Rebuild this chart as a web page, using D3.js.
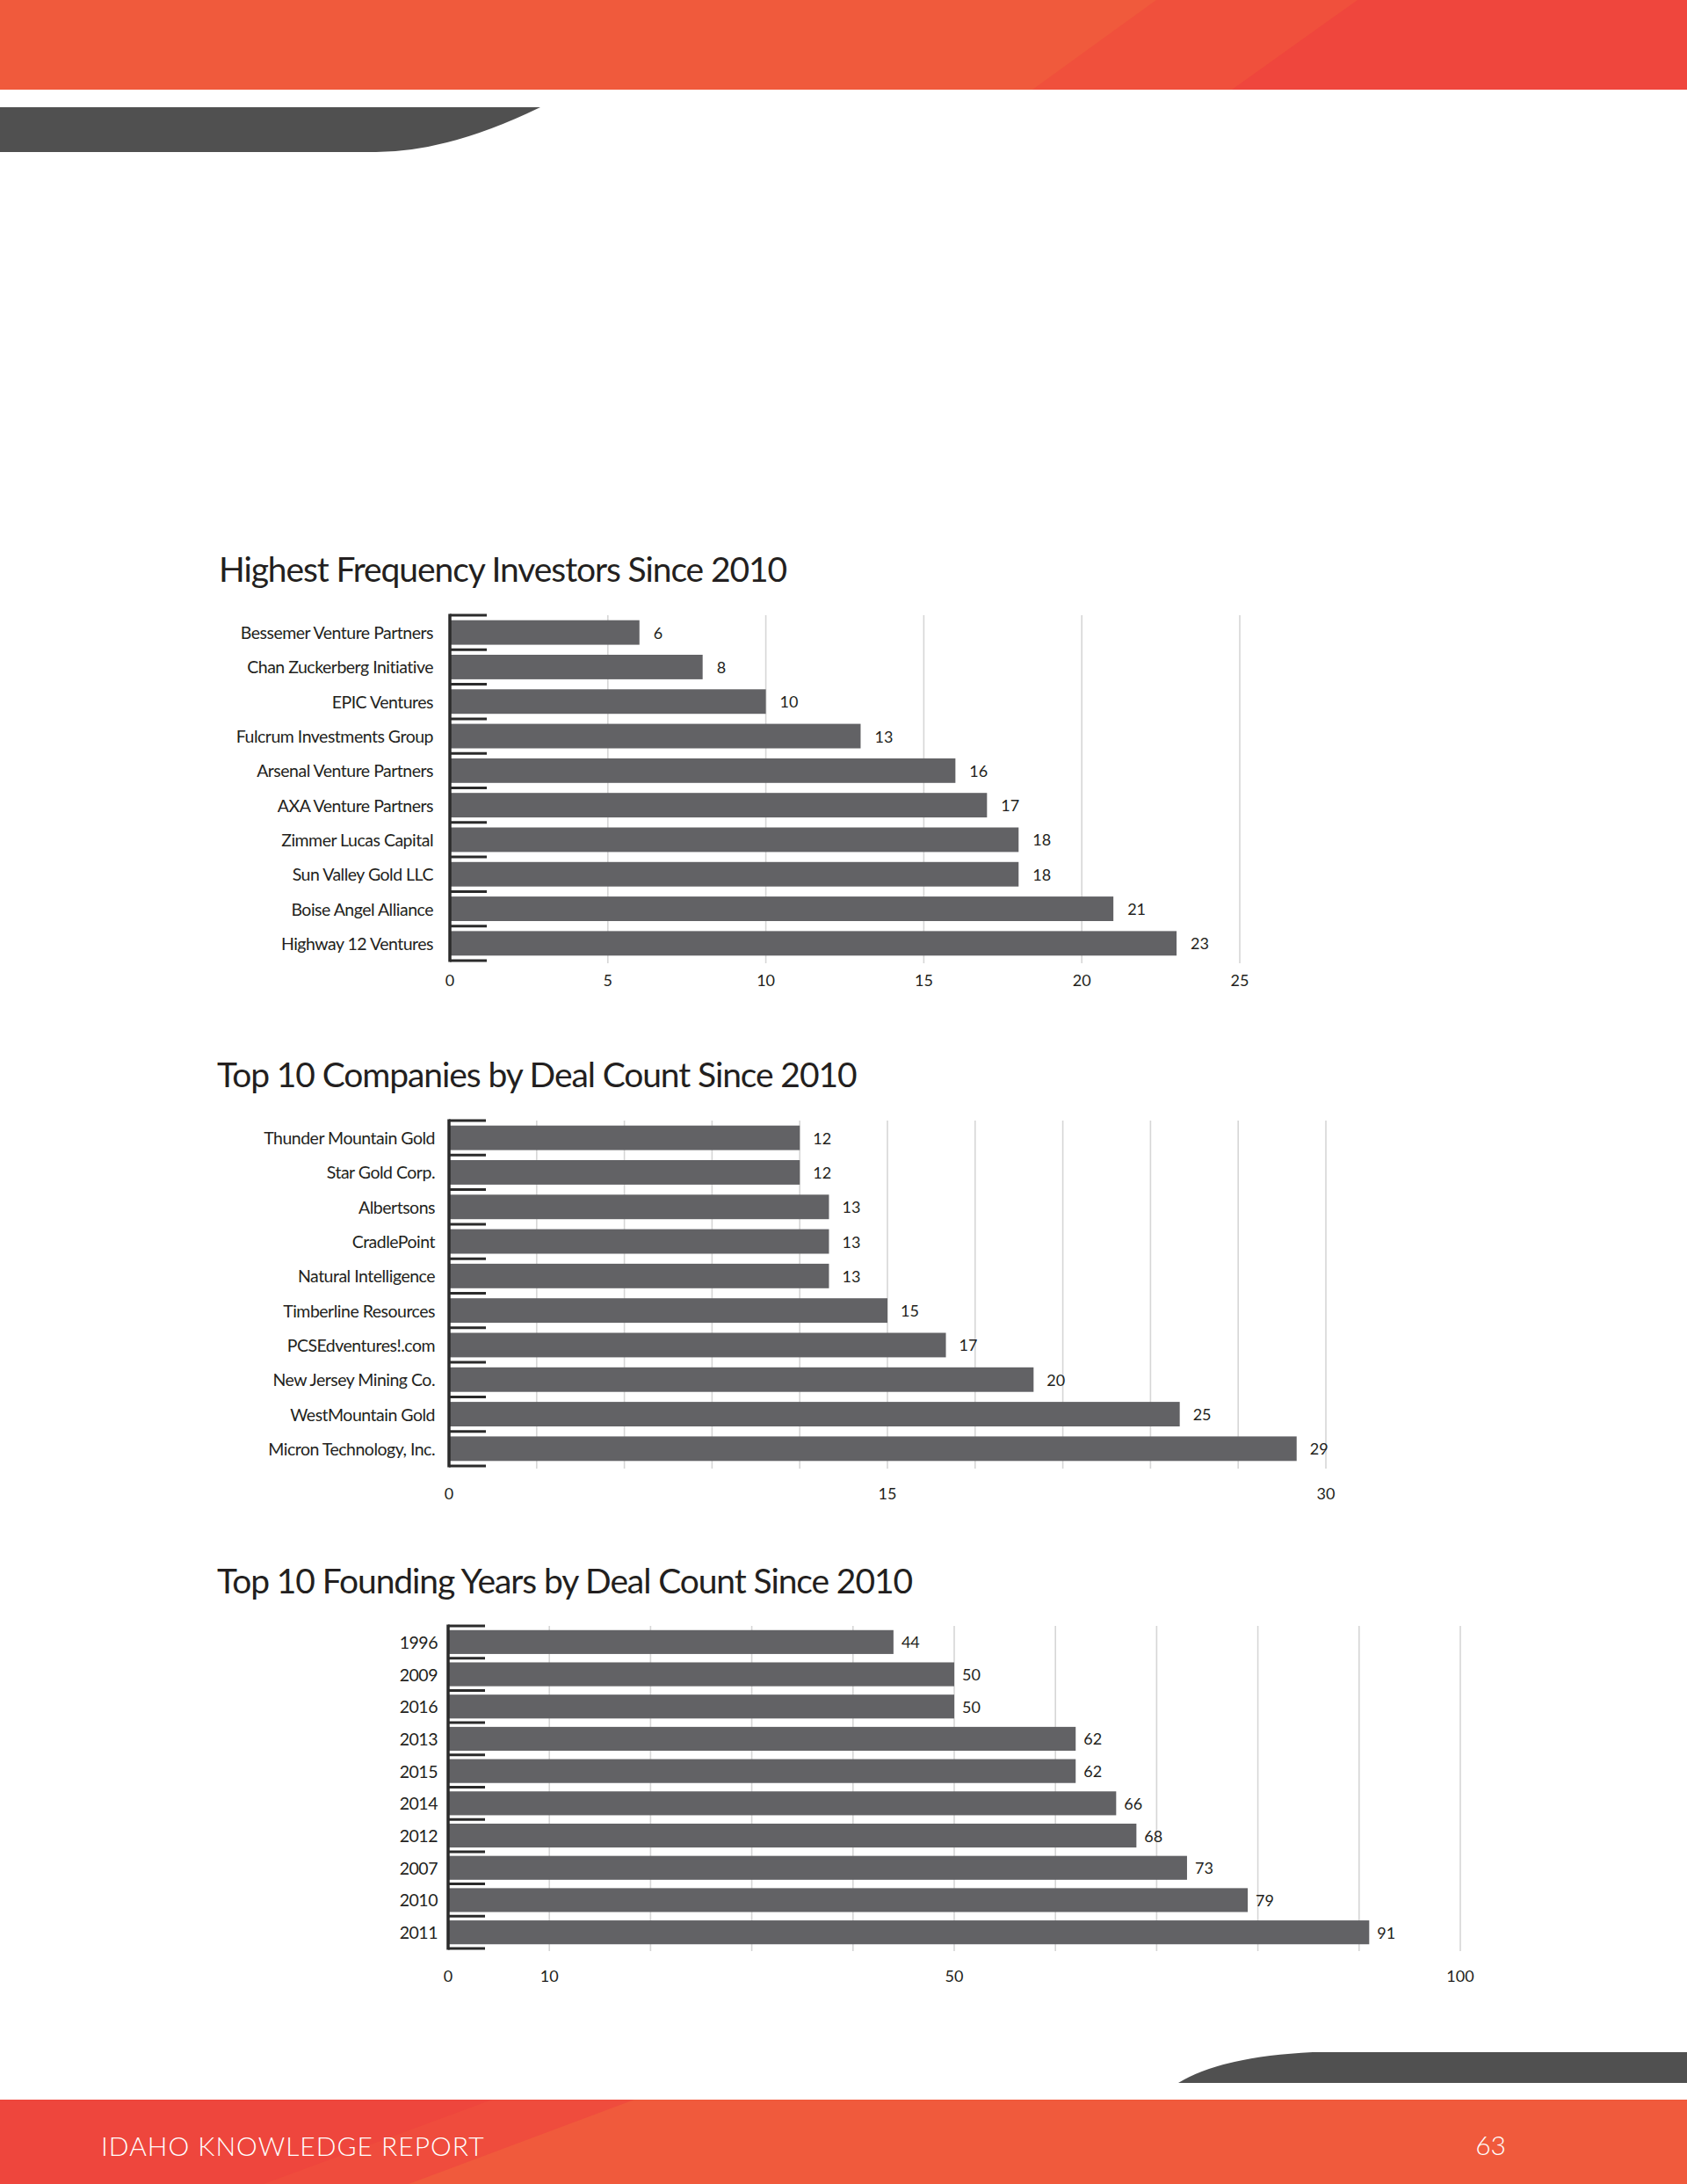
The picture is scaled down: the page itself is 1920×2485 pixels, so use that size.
<!DOCTYPE html>
<html>
<head>
<meta charset="utf-8">
<script src="https://cdn.jsdelivr.net/npm/d3@7"></script>
<style>
  html, body { margin: 0; padding: 0; background: #ffffff; }
  svg { display: block; }
  text { font-family: Lato, "Open Sans", sans-serif; }
</style>
</head>
<body>
<svg id="page" width="1920" height="2485"></svg>
<script>
// ---------- DATA ----------
const investorNames = ["Bessemer Venture Partners","Chan Zuckerberg Initiative","EPIC Ventures","Fulcrum Investments Group","Arsenal Venture Partners","AXA Venture Partners","Zimmer Lucas Capital","Sun Valley Gold LLC","Boise Angel Alliance","Highway 12 Ventures"];
const investorDeals = [6, 8, 10, 13, 16, 17, 18, 18, 21, 23];
const investorTicks = [0, 5, 10, 15, 20, 25];

const companyNames = ["Thunder Mountain Gold","Star Gold Corp.","Albertsons","CradlePoint","Natural Intelligence","Timberline Resources","PCSEdventures!.com","New Jersey Mining Co.","WestMountain Gold","Micron Technology, Inc."];
const companyDeals = [12, 12, 13, 13, 13, 15, 17, 20, 25, 29];
const companyTicks = [0, 15, 30];
const companyGrid = [3, 6, 9, 12, 15, 18, 21, 24, 27, 30];

const yearNames = ["1996","2009","2016","2013","2015","2014","2012","2007","2010","2011"];
const yearDeals = [44, 50, 50, 62, 62, 66, 68, 73, 79, 91];
const yearTicks = [0, 10, 50, 100];
const yearGrid = [10, 20, 30, 40, 50, 60, 70, 80, 90, 100];

const titles = ["Highest Frequency Investors Since 2010","Top 10 Companies by Deal Count Since 2010","Top 10 Founding Years by Deal Count Since 2010"];
const footerText = "IDAHO KNOWLEDGE REPORT";
const pageNumber = "63";

// ---------- PAGE DECORATION ----------
const svg = d3.select("#page");
// header band
svg.append("rect").attr("x",0).attr("y",0).attr("width",1920).attr("height",102).attr("fill","#F05A3C");
svg.append("path").attr("d","M1316,0 L1920,0 L1920,102 L1175,102 Z").attr("fill","#F0503C");
svg.append("path").attr("d","M1545,0 L1920,0 L1920,102 L1402,102 Z").attr("fill","#EF463D");
// header dark shape
svg.append("path").attr("d","M0,122 L615,122 Q510,173 428,173 L0,173 Z").attr("fill","#505050");

// footer dark shape
svg.append("path").attr("d","M1341,2370 Q1390,2340 1494,2335 L1920,2335 L1920,2370 Z").attr("fill","#505050");
// footer band
svg.append("rect").attr("x",0).attr("y",2389).attr("width",1920).attr("height",96).attr("fill","#F05A3C");
svg.append("path").attr("d","M0,2389 L722,2389 L465,2485 L0,2485 Z").attr("fill","#EF4C3D");
svg.append("path").attr("d","M0,2389 L560,2389 L300,2485 L0,2485 Z").attr("fill","#EE463D");
svg.append("text").attr("x",115).attr("y",2453).attr("fill","#ffffff")
  .attr("font-size",30).attr("font-weight",300).attr("letter-spacing",1).text(footerText);
svg.append("text").attr("x",1714).attr("y",2452).attr("fill","#ffffff").attr("text-anchor","end")
  .attr("font-size",30).attr("font-weight",300).text(pageNumber);

// ---------- CHART FUNCTION ----------
function drawChart(cfg) {
  const g = svg.append("g");
  const x = d3.scaleLinear().domain(cfg.domain).range([cfg.x0, cfg.x1]);
  const y = d3.scaleBand().domain(cfg.names).range([cfg.y0, cfg.y1]).paddingInner(cfg.pad).paddingOuter(cfg.pad/2);
  const band = (cfg.y1 - cfg.y0) / cfg.names.length;

  // title
  g.append("text").attr("x", cfg.titleX).attr("y", cfg.titleY)
    .attr("font-size", 39).attr("fill", "#231f20").attr("letter-spacing", -1.1)
    .text(cfg.title);

  // gridlines
  g.selectAll("line.grid").data(cfg.grid).join("line")
    .attr("x1", d => x(d)).attr("x2", d => x(d))
    .attr("y1", cfg.y0).attr("y2", cfg.y1 + 3)
    .attr("stroke", "#d6d6d6").attr("stroke-width", 1.6);

  // bars
  g.selectAll("rect.bar").data(cfg.values).join("rect")
    .attr("x", x(0))
    .attr("y", (d, i) => y(cfg.names[i]))
    .attr("width", d => x(d) - x(0))
    .attr("height", y.bandwidth())
    .attr("fill", "#626265");

  // value labels
  g.selectAll("text.val").data(cfg.values).join("text")
    .attr("x", d => x(d) + cfg.valOffset)
    .attr("y", (d, i) => y(cfg.names[i]) + y.bandwidth() / 2)
    .attr("dominant-baseline", "central")
    .attr("font-size", 18).attr("fill", "#231f20")
    .text(d => d);

  // category labels
  g.selectAll("text.cat").data(cfg.names).join("text")
    .attr("x", cfg.x0 - cfg.labelGap)
    .attr("y", d => y(d) + y.bandwidth() / 2)
    .attr("dominant-baseline", "central")
    .attr("text-anchor", "end")
    .attr("font-size", cfg.catSize).attr("fill", "#231f20")
    .attr("letter-spacing", -0.5)
    .text(d => d);

  // y axis line and tick marks at band boundaries
  g.append("line").attr("x1", cfg.x0).attr("x2", cfg.x0)
    .attr("y1", cfg.y0 - 1.5).attr("y2", cfg.y1 + 1.5)
    .attr("stroke", "#2b2b2b").attr("stroke-width", 3.5);
  const bounds = d3.range(cfg.names.length + 1);
  g.selectAll("line.tick").data(bounds).join("line")
    .attr("x1", cfg.x0).attr("x2", cfg.x0 + 42)
    .attr("y1", i => cfg.y0 + i * band).attr("y2", i => cfg.y0 + i * band)
    .attr("stroke", "#2b2b2b").attr("stroke-width", 3);

  // x tick labels
  g.selectAll("text.xt").data(cfg.ticks).join("text")
    .attr("x", d => x(d)).attr("y", cfg.tickY)
    .attr("text-anchor", "middle")
    .attr("font-size", 18).attr("fill", "#231f20")
    .text(d => d);
}

drawChart({
  title: titles[0], titleX: 249, titleY: 662,
  names: investorNames, values: investorDeals, domain: [0, 25],
  x0: 512, x1: 1411, y0: 700, y1: 1093, pad: 0.29,
  grid: investorTicks.filter(d => d > 0), ticks: investorTicks,
  tickY: 1122, valOffset: 16, labelGap: 19, catSize: 19.5
});

drawChart({
  title: titles[1], titleX: 247, titleY: 1237,
  names: companyNames, values: companyDeals, domain: [0, 30],
  x0: 511, x1: 1509, y0: 1275, y1: 1668, pad: 0.29,
  grid: companyGrid, ticks: companyTicks,
  tickY: 1706, valOffset: 15, labelGap: 16, catSize: 19.5
});

drawChart({
  title: titles[2], titleX: 247, titleY: 1813,
  names: yearNames, values: yearDeals, domain: [0, 100],
  x0: 510, x1: 1662, y0: 1850, y1: 2217, pad: 0.26,
  grid: yearGrid, ticks: yearTicks,
  tickY: 2255, valOffset: 9, labelGap: 12, catSize: 19.5
});
</script>
</body>
</html>
